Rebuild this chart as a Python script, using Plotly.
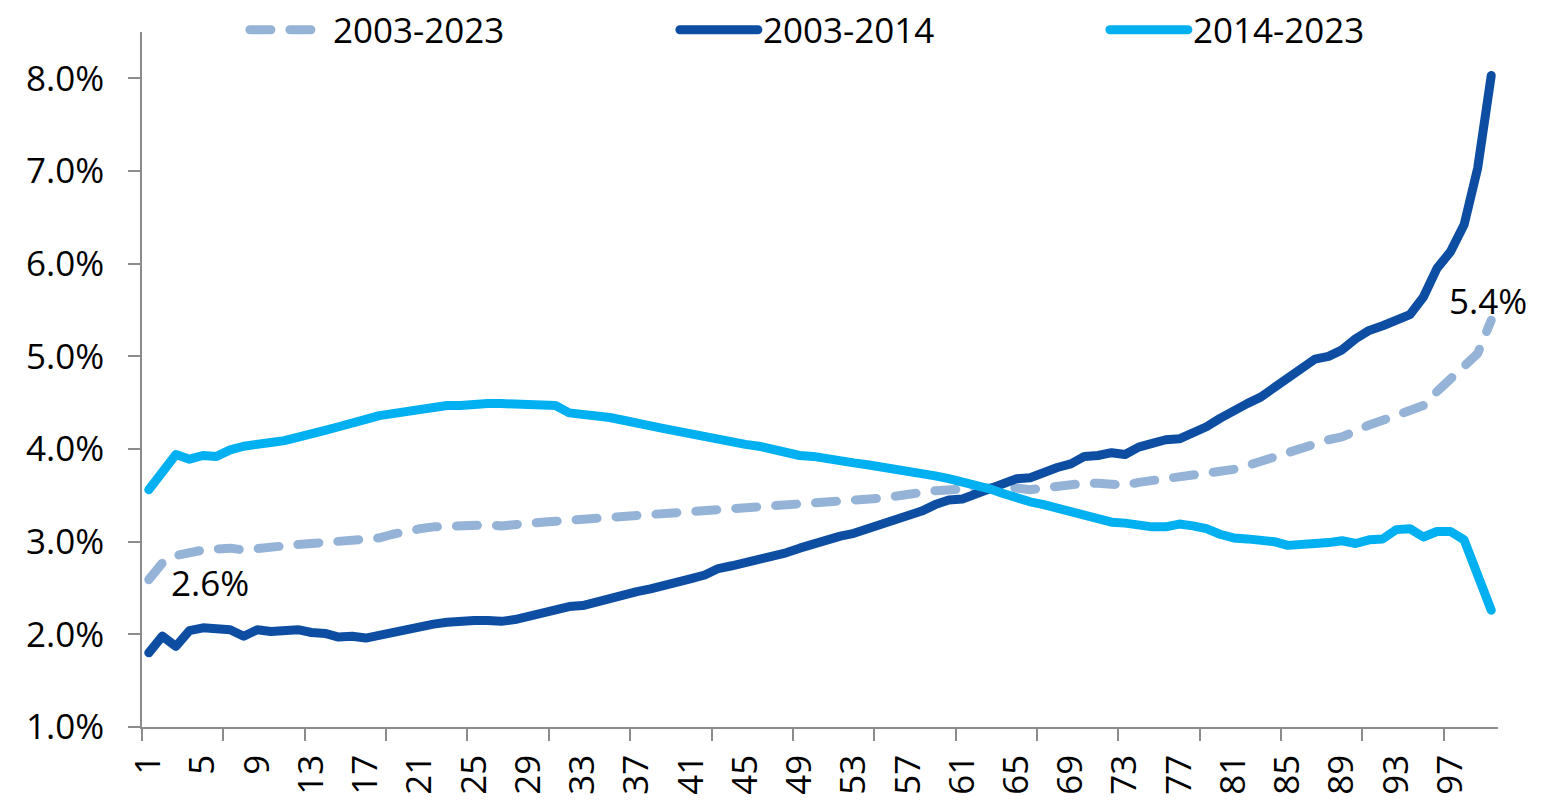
import plotly.graph_objects as go

# ---------------- data ----------------
categories = list(range(1, 101))

series_names = ["2003-2023", "2003-2014", "2014-2023"]

rate_2003_2023 = [
    2.59, 2.77, 2.85, 2.89, 2.91, 2.92, 2.93, 2.91, 2.93, 2.94,
    2.95, 2.97, 2.98, 2.99, 3.00, 3.00, 3.02, 3.04, 3.08, 3.12,
    3.14, 3.16, 3.17, 3.17, 3.18, 3.18, 3.17, 3.19, 3.20, 3.21,
    3.22, 3.23, 3.24, 3.26, 3.27, 3.28, 3.28, 3.28, 3.29, 3.30,
    3.31, 3.32, 3.34, 3.35, 3.36, 3.36, 3.37, 3.38, 3.39, 3.41,
    3.42, 3.43, 3.44, 3.45, 3.47, 3.49, 3.50, 3.53, 3.55, 3.56,
    3.57, 3.58, 3.59, 3.59, 3.58, 3.56, 3.58, 3.60, 3.61, 3.63,
    3.63, 3.62, 3.61, 3.64, 3.66, 3.68, 3.70, 3.72, 3.74, 3.75,
    3.78, 3.82, 3.87, 3.91, 3.95, 4.01, 4.06, 4.10, 4.13, 4.20,
    4.26, 4.31, 4.36, 4.41, 4.47, 4.62, 4.75, 4.88, 5.03, 5.39,
]

rate_2003_2014 = [
    1.80, 1.98, 1.87, 2.04, 2.07, 2.07, 2.05, 1.98, 2.05, 2.03,
    2.05, 2.05, 2.02, 2.01, 1.97, 1.98, 1.96, 1.99, 2.03, 2.07,
    2.10, 2.11, 2.13, 2.15, 2.15, 2.15, 2.14, 2.16, 2.20, 2.23,
    2.27, 2.30, 2.31, 2.35, 2.40, 2.43, 2.46, 2.49, 2.52, 2.56,
    2.60, 2.64, 2.71, 2.74, 2.77, 2.81, 2.85, 2.88, 2.93, 2.98,
    3.03, 3.06, 3.09, 3.14, 3.19, 3.24, 3.27, 3.33, 3.40, 3.45,
    3.46, 3.52, 3.58, 3.63, 3.68, 3.69, 3.75, 3.80, 3.84, 3.92,
    3.93, 3.96, 3.94, 4.02, 4.06, 4.10, 4.11, 4.17, 4.24, 4.33,
    4.42, 4.49, 4.56, 4.66, 4.76, 4.87, 4.97, 5.00, 5.07, 5.19,
    5.28, 5.33, 5.39, 5.45, 5.64, 5.95, 6.13, 6.42, 7.03, 8.03,
]

rate_2014_2023 = [
    3.56, 3.76, 3.94, 3.89, 3.93, 3.92, 3.99, 4.03, 4.06, 4.07,
    4.09, 4.12, 4.16, 4.20, 4.24, 4.29, 4.32, 4.36, 4.38, 4.42,
    4.44, 4.46, 4.47, 4.47, 4.49, 4.49, 4.49, 4.49, 4.48, 4.47,
    4.47, 4.39, 4.38, 4.37, 4.34, 4.31, 4.29, 4.25, 4.22, 4.19,
    4.15, 4.12, 4.09, 4.07, 4.05, 4.03, 3.99, 3.97, 3.93, 3.92,
    3.89, 3.86, 3.85, 3.83, 3.81, 3.79, 3.75, 3.73, 3.71, 3.68,
    3.65, 3.61, 3.57, 3.52, 3.47, 3.43, 3.40, 3.36, 3.31, 3.27,
    3.23, 3.21, 3.20, 3.17, 3.16, 3.16, 3.19, 3.17, 3.14, 3.08,
    3.04, 3.03, 3.02, 3.00, 2.96, 2.98, 2.98, 2.99, 3.01, 2.98,
    3.02, 3.03, 3.13, 3.14, 3.05, 3.11, 3.11, 3.02, 2.66, 2.26,
]

x_tick_labels = categories[::4]          # 1, 5, 9, ..., 97
x_tick_marks = [c - 0.5 for c in categories[::6]]  # boundaries every 6 categories
y_ticks = [1, 2, 3, 4, 5, 6, 7, 8]

# ---------------- style ----------------
FONT = "Open Sans"
FS = 35
AXIS_COLOR = "#8C8C8C"
colors = ["#95B3D7", "#0D4EA2", "#00B0F0"]
dashes = ["21px,19px", "solid", "solid"]
LW = 9

fig = go.Figure()
for name, ys, col, dsh in zip(series_names,
                              [rate_2003_2023, rate_2003_2014, rate_2014_2023],
                              colors, dashes):
    fig.add_trace(go.Scatter(
        x=categories, y=ys, name=name, mode="lines",
        line=dict(color=col, width=LW, dash=dsh),
        hoverinfo="skip",
    ))

# end-point labels for the 2003-2023 series
fig.add_annotation(x=categories[0], y=rate_2003_2023[0],
                   text=f"{rate_2003_2023[0]:.1f}%", showarrow=False,
                   xanchor="left", yanchor="middle", xshift=20, yshift=-3,
                   font=dict(family=FONT, size=FS, color="black"))
fig.add_annotation(x=categories[-1], y=rate_2003_2023[-1],
                   text=f"{rate_2003_2023[-1]:.1f}%", showarrow=False,
                   xanchor="center", yanchor="middle", xshift=-3, yshift=20,
                   font=dict(family=FONT, size=FS, color="black"))

fig.update_layout(
    width=1550, height=807,
    margin=dict(l=142, r=52, t=32, b=80, autoexpand=False),
    paper_bgcolor="white", plot_bgcolor="white",
    font=dict(family=FONT, size=FS, color="black"),
    showlegend=True,
    legend=dict(
        orientation="h", xref="container", yref="container",
        x=0.158, y=1 - 30 / 807, xanchor="left", yanchor="middle",
        entrywidth=337, entrywidthmode="pixels", itemwidth=78,
        font=dict(family=FONT, size=FS, color="black"),
        bgcolor="rgba(0,0,0,0)", tracegroupgap=0,
        itemclick=False, itemdoubleclick=False,
    ),
    xaxis=dict(
        range=[0.5, 100.5], showgrid=False, zeroline=False,
        showline=True, linecolor=AXIS_COLOR, linewidth=1.5,
        tickmode="array", tickvals=x_tick_labels,
        ticktext=[str(v) for v in x_tick_labels],
        ticks="", tickangle=-90, ticklabelstandoff=12,
        tickfont=dict(family=FONT, size=FS, color="black"),
        minor=dict(tickmode="array", tickvals=x_tick_marks, ticks="outside",
                   ticklen=12, tickwidth=1.5, tickcolor=AXIS_COLOR,
                   showgrid=False),
    ),
    yaxis=dict(
        range=[1, 8.5], showgrid=False, zeroline=False,
        showline=True, linecolor=AXIS_COLOR, linewidth=1.5,
        tickmode="array", tickvals=y_ticks,
        ticktext=[f"{v:.1f}%" for v in y_ticks],
        ticks="outside", ticklen=12, tickwidth=1.5, tickcolor=AXIS_COLOR,
        ticklabelstandoff=17,
        tickfont=dict(family=FONT, size=FS, color="black"),
    ),
)

post_js = """
document.body.style.margin = '0';
document.body.style.overflow = 'hidden';
var gd = document.getElementById('{plot_id}');
function roundCaps(){
  gd.querySelectorAll('path.js-line').forEach(function(p){
    p.style.strokeLinecap = 'round';
    p.style.strokeLinejoin = 'round';
  });
}
roundCaps();
gd.on('plotly_afterplot', roundCaps);
"""

fig.write_html("out.html", post_script=post_js,
               config={"displayModeBar": False, "staticPlot": False})
